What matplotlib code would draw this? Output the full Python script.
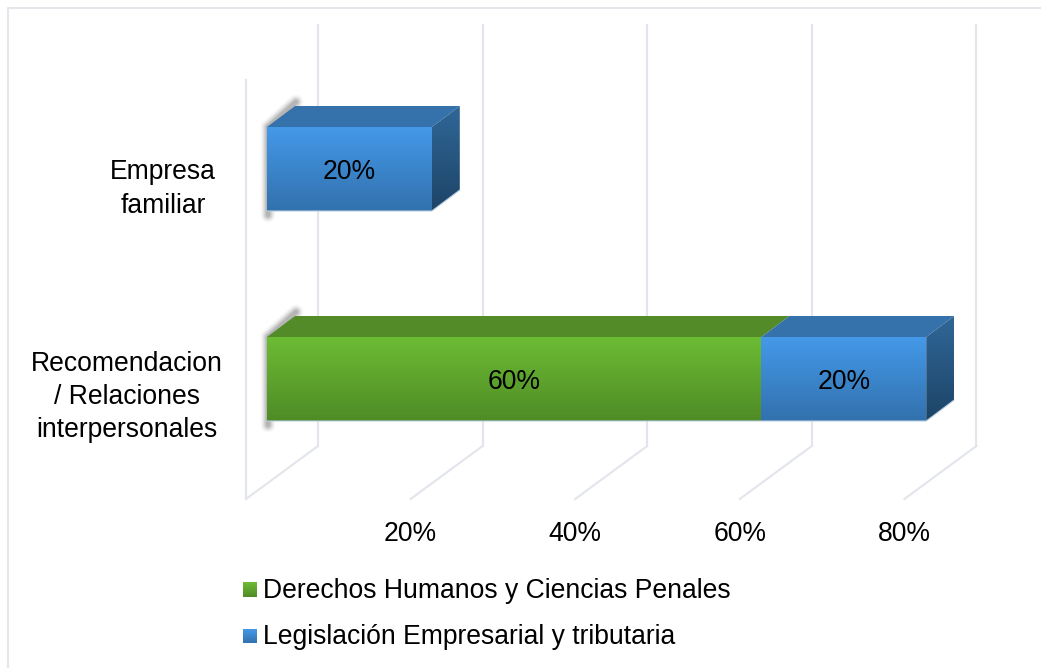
import numpy as np
import matplotlib
matplotlib.use('Agg')
import matplotlib.pyplot as plt
from matplotlib.colors import LinearSegmentedColormap
from matplotlib.patches import Polygon

plt.rcParams['font.family'] = ['Liberation Sans', 'DejaVu Sans']

# data
categorias = ['Recomendacion\n/ Relaciones\ninterpersonales', 'Empresa\nfamiliar']
derechos = [60, 0]
legislacion = [20, 20]
ticks = [0, 20, 40, 60, 80]
series_names = ['Derechos Humanos y Ciencias Penales', 'Legislación Empresarial y tributaria']

W, H = 1041, 668
PX_X = 8.24    # pixels per percent
PX_Y = 210.0   # pixels per category
X0, Y0 = 267, 379
FS = 19.1

fig = plt.figure(figsize=(W / 100, H / 100), dpi=100)
ax = fig.add_axes([0, 0, 1, 1])
ax.set_xlim(-X0 / PX_X, (W - X0) / PX_X)
ax.set_ylim((Y0 - H) / PX_Y, Y0 / PX_Y)
ax.axis('off')
ax.set_autoscale_on(False)


def xp(px):
    return (px - X0) / PX_X


def yp(py):
    return (Y0 - py) / PX_Y


def grad(x0, x1, y0, y1, top, bottom, clip=None, z=3):
    cm = LinearSegmentedColormap.from_list('g', [top, bottom])
    im = ax.imshow(np.linspace(0, 1, 128).reshape(-1, 1), cmap=cm, aspect='auto',
                   extent=[x0, x1, y0, y1], origin='upper', zorder=z, interpolation='bilinear')
    if clip is not None:
        p = Polygon(clip, transform=ax.transData)
        im.set_clip_path(p)
    return im


GRID = '#e2e5ec'
FRONT_OFF = xp(246)
DEPTH_X = 72 / PX_X
BAR_DX = 28 / PX_X
BAR_DY = 21 / PX_Y
HALF = 42 / PX_Y
colors = {
    'g': ('#6cbc34', '#4f8b26', '#548b29'),
    'b': ('#4499e9', '#3271ad', '#3571ab'),
}

# frame of the picture
ax.plot([xp(8), xp(8), xp(W)], [yp(H), yp(8), yp(8)], color='#e3e6ea', lw=1.5, zorder=1)

# walls and floor
for i, t in enumerate(ticks):
    fx = t * 164.6 / 20 / PX_X + FRONT_OFF
    ax.plot([fx, fx + DEPTH_X], [yp(499), yp(446)], color=GRID, lw=1.5, zorder=1)
    ax.plot([fx + DEPTH_X] * 2, [yp(446), yp(25)], color=GRID, lw=1.5, zorder=1)
    if t > 0:
        ax.text(fx, yp(534), f'{t}%', ha='center', va='center', fontsize=FS, color='#000000')
ax.plot([FRONT_OFF] * 2, [yp(499), yp(80)], color=GRID, lw=1.5, zorder=1)

# bars
for c, (name, d, l) in enumerate(zip(categorias, derechos, legislacion)):
    lo, hi = c - HALF, c + HALF

    # soft shadow on left and back corner
    sx = [xp(268), xp(268), xp(296)]
    sy = [lo - 4 / PX_Y, hi, hi + BAR_DY + 4 / PX_Y]
    for w, a in zip([15, 12, 10, 8, 6, 4], [.04, .05, .07, .08, .10, .12]):
        ax.plot(sx, sy, color='#444444', lw=w * 0.72, alpha=a, solid_capstyle='round',
                solid_joinstyle='round', zorder=2)

    left = 0
    for v, key in ((d, 'g'), (l, 'b')):
        if v == 0:
            continue
        right = left + v
        top_c, bot_c, roof = colors[key]
        grad(left, right, lo, hi, top_c, bot_c)
        ax.add_patch(Polygon([(left, hi), (right, hi), (right + BAR_DX, hi + BAR_DY),
                              (left + BAR_DX, hi + BAR_DY)], fc=roof, ec='none', zorder=3))
        ax.text((left + right) / 2, c - 3 / PX_Y, f'{v}%', ha='center', va='center', fontsize=FS,
                color='#000000', zorder=5)
        left = right
    side = [(left, lo), (left + BAR_DX, lo + BAR_DY), (left + BAR_DX, hi + BAR_DY), (left, hi)]
    grad(left, left + BAR_DX, lo, hi + BAR_DY, '#306797', '#1d4467', clip=side)
    ax.plot([0, left, left + BAR_DX], [lo, lo, lo + BAR_DY], color='#b9cfe2', lw=0.8, zorder=4)

ax.text(xp(127), yp(397), categorias[0], ha='center', va='center', fontsize=FS,
        linespacing=1.36, color='#000000')
ax.text(xp(163), yp(189), categorias[1], ha='center', va='center', fontsize=FS,
        linespacing=1.36, color='#000000')

# legend
for nm, key, py in zip(series_names, ['g', 'b'], [590, 636]):
    grad(xp(243), xp(257), yp(py + 7), yp(py - 7), colors[key][0], colors[key][1])
    ax.text(xp(263), yp(py + 1), nm, ha='left', va='center', fontsize=FS, color='#000000')

fig.savefig('out.png', dpi=100)
